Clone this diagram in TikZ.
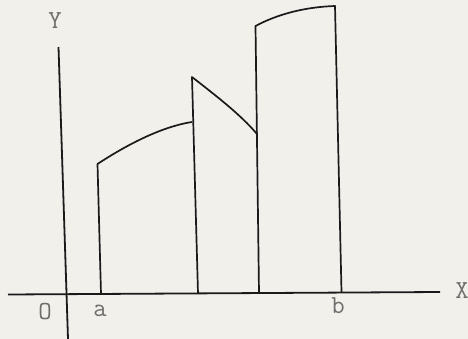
\documentclass[tikz,border=0pt]{standalone}
\definecolor{paper}{HTML}{F1F0EB}
\definecolor{ink}{HTML}{1A1A1A}
\definecolor{lab}{HTML}{6E6E6C}
\begin{document}
\begin{tikzpicture}[x=1pt,y=-1pt,
  axis/.style={draw=ink,line width=1.8pt},
  curve/.style={draw=ink,line width=1.7pt,line join=round},
  lbl/.style={text=lab,font=\ttfamily\fontsize{26}{26}\selectfont,inner sep=0pt}]
\fill[paper] (0,0) rectangle (468,339);
\useasboundingbox (0,0) rectangle (468,339);
% axes
\coordinate (xl) at (8,294.5);
\coordinate (xr) at (440,292);
\coordinate (yt) at (58.5,47);
\coordinate (yb) at (68,339);
\draw[axis] (xl) -- (xr);
\draw[axis] (yt) -- (yb);
% ordinates
\coordinate (a0) at (101,294);
\coordinate (a1) at (97.5,164);
\coordinate (c1) at (192,122);
\coordinate (c0) at (198,293.5);
\coordinate (c2) at (192,77);
\coordinate (d1) at (257,134);
\coordinate (d0) at (259,293);
\coordinate (d2) at (255.5,26);
\coordinate (b1) at (335,6);
\coordinate (b0) at (341.5,292);
\draw[curve] (a0) -- (a1) .. controls (125,146) and (160,127) .. (c1);
\draw[curve] (c0) -- (c2) .. controls (215,95) and (240,114) .. (d1);
\draw[curve] (d0) -- (d2) .. controls (278,14) and (305,7) .. (b1) -- (b0);
% labels
\node[lbl] (Ylab) at (55,21) {Y};
\node[lbl] (Xlab) at (462,291) {X};
\node[lbl] (Olab) at (45,312) {O};
\node[lbl] (alab) at (100,311) {a};
\node[lbl] (blab) at (338,306) {b};
\end{tikzpicture}
\end{document}
